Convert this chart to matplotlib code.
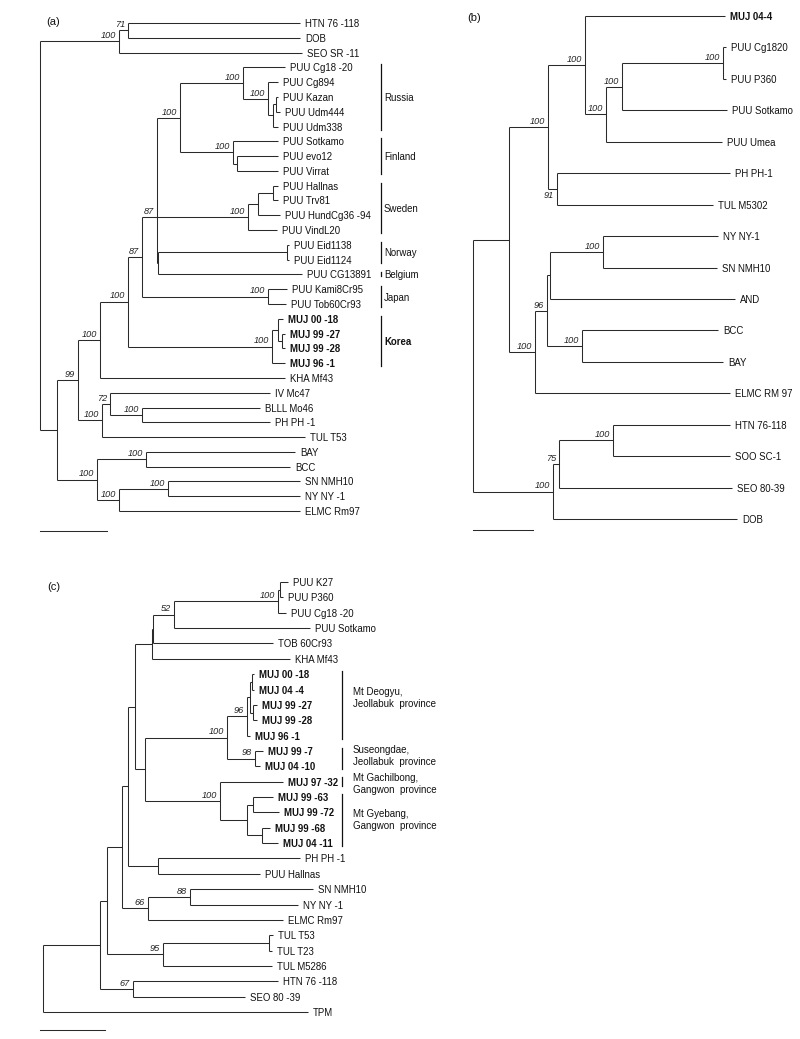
import matplotlib
matplotlib.use('Agg')
import matplotlib.pyplot as plt

plt.rcParams['font.family'] = ['Liberation Sans', 'DejaVu Sans']

# ---------------- DATA ----------------
# Newick trees: branch lengths; internal labels = bootstrap
# support ("v" suffix: support printed below the branch)
TREE_A = ("(((HTN 76 -118:172,DOB:172)71:9,SEO SR -11:183)100:79,"
          "((((((((PUU Cg18 -20:42,(PUU Cg894:10,((PUU Kazan:2,PUU Udm444:4):3,PUU Udm338:5):5)100:25)100:63,"
          "(PUU Sotkamo:45,(PUU evo12:41,PUU Virrat:41):4)100:53)100:23,"
          "(((PUU Hallnas:5,PUU Trv81:5):15,PUU HundCg36 -94:22):10,PUU VindL20:29)100:91,"
          "((PUU Eid1138:2,PUU Eid1124:2):129,PUU CG13891:144):1)87:15,"
          "(PUU Kami8Cr95:19,PUU Tob60Cr93:18)100:126)87:14,"
          "((MUJ 00 -18:5,(MUJ 99 -27:3,MUJ 99 -28:3):4):6,MUJ 96 -1:13)100:144)100:28,"
          "KHA Mf43:185)100:22,"
          "((IV Mc47:160,(BLLL Mo46:118,PH PH -1:128)100:32)72:8,TUL T53:203)100:24)99:21,"
          "((BAY:149,BCC:144)100:49,((SN NMH10:132,NY NY -1:132)100:49,ELMC Rm97:181)100:22)100:40):17);")

TREE_B = ("((((MUJ 04-4:140,(((PUU Cg1820:3,PUU P360:3)100:101,PUU Sotkamo:105)100:16,PUU Umea:116)100:21)100:37,"
          "(PH PH-1:173,TUL M5302:156)91v:9)100:39,"
          "((((NY NY-1:115,SN NMH10:114)100:53,AND:185):3,(BCC:136,BAY:141)100:35)96:12,ELMC RM 97:195)100:26):36,"
          "(((HTN 76-118:117,SOO SC-1:117)100:54,SEO 80-39:173)75:6,DOB:184)100:80);")

TREE_C = ("(((((((((((PUU K27:8,PUU P360:3):2,PUU Cg18 -20:8)100:104,PUU Sotkamo:136)52:21,TOB 60Cr93:120):1,"
          "KHA Mf43:138):17,"
          "(((((MUJ 00 -18:2.5,MUJ 04 -4:2.5):1.5,(MUJ 99 -27:4,MUJ 99 -28:4):3):3,MUJ 96 -1:3)96:20,"
          "(MUJ 99 -7:8,MUJ 04 -10:5)98:28)100:82,"
          "(MUJ 97 -32:63,((MUJ 99 -63:20,MUJ 99 -72:26):6,(MUJ 99 -68:8,MUJ 04 -11:16):15):27)100:75):10):7,"
          "(PH PH -1:142,PUU Hallnas:102):30):6,"
          "((SN NMH10:123,NY NY -1:108)88:42,ELMC Rm97:135)66:26):15,"
          "((TUL T53:4,TUL T23:3):106,TUL M5286:109)95:56):7,"
          "(HTN 76 -118:145,SEO 80 -39:112)67:33):57,TPM:265);")

PANEL_TAGS = ['(a)', '(b)', '(c)']

# group annotations: (label, first leaf, last leaf)
GROUPS_A = [('Russia', 'PUU Cg18 -20', 'PUU Udm338'),
            ('Finland', 'PUU Sotkamo', 'PUU Virrat'),
            ('Sweden', 'PUU Hallnas', 'PUU VindL20'),
            ('Norway', 'PUU Eid1138', 'PUU Eid1124'),
            ('Belgium', 'PUU CG13891', 'PUU CG13891'),
            ('Japan', 'PUU Kami8Cr95', 'PUU Tob60Cr93'),
            ('Korea', 'MUJ 00 -18', 'MUJ 96 -1')]
GROUPS_C = [('Mt Deogyu,\nJeollabuk  province', 'MUJ 00 -18', 'MUJ 96 -1'),
            ('Suseongdae,\nJeollabuk  province', 'MUJ 99 -7', 'MUJ 04 -10'),
            ('Mt Gachilbong,\nGangwon  province', 'MUJ 97 -32', 'MUJ 97 -32'),
            ('Mt Gyebang,\nGangwon  province', 'MUJ 99 -63', 'MUJ 04 -11')]

SCALE_LEN = [67, 60, 65]

# ---------------- PARSER / LAYOUT ----------------
def parse_newick(s):
    pos = 0

    def node():
        nonlocal pos
        children = []
        if s[pos] == '(':
            pos += 1
            while True:
                children.append(node())
                if s[pos] == ',':
                    pos += 1
                    continue
                if s[pos] == ')':
                    pos += 1
                    break
        start = pos
        while pos < len(s) and s[pos] not in ',():;':
            pos += 1
        name = s[start:pos].strip()
        length = 0.0
        if pos < len(s) and s[pos] == ':':
            pos += 1
            start = pos
            while pos < len(s) and s[pos] not in ',();':
                pos += 1
            length = float(s[start:pos])
        return {'name': name, 'len': length, 'children': children}

    return node()


def layout(node, x, state):
    node['x'] = x + node['len']
    if not node['children']:
        node['y'] = state['y0'] + state['i'] * state['dy']
        state['i'] += 1
        state['leaves'][node['name']] = node['y']
        return
    for c in node['children']:
        layout(c, node['x'], state)
    ys = [c['y'] for c in node['children']]
    n = len(ys)
    if n % 2 == 1 and n > 1:
        node['y'] = ys[n // 2]
    else:
        node['y'] = (ys[0] + ys[-1]) / 2.0


LC = '#2a2a2a'
LW = 0.75
FS = 6.9


def draw(ax, node, is_root=False):
    if node['children']:
        ys = [c['y'] for c in node['children']]
        ax.plot([node['x'], node['x']], [min(ys), max(ys)], color=LC, lw=LW,
                solid_capstyle='butt')
        for c in node['children']:
            ax.plot([node['x'], c['x']], [c['y'], c['y']], color=LC, lw=LW,
                    solid_capstyle='butt')
            draw(ax, c)
        lab = node['name']
        if lab and not is_root:
            below = lab.endswith('v')
            txt = lab.rstrip('v')
            if below:
                ax.text(node['x'] - 3, node['y'] + 2, txt, ha='right', va='top',
                        fontsize=6.6, style='italic', color='#222')
            else:
                ax.text(node['x'] - 3, node['y'] - 1.2, txt, ha='right', va='bottom',
                        fontsize=6.6, style='italic', color='#222')
    else:
        bold = node['name'].startswith('MUJ')
        ax.text(node['x'] + 5, node['y'], node['name'], ha='left',
                va='center_baseline', fontsize=FS,
                fontweight='bold' if bold else 'normal', color='#111')


fig = plt.figure(figsize=(8, 10.39), dpi=100)
ax = fig.add_axes([0, 0, 1, 1])
ax.set_xlim(0, 800)
ax.set_ylim(1039, 0)
ax.axis('off')

panels = [(TREE_A, 40, 23, 14.79), (TREE_B, 473, 16, 31.44), (TREE_C, 43, 582, 15.36)]
leafmaps = []
for s, x0, y0, dy in panels:
    t = parse_newick(s)
    st = {'y0': y0, 'dy': dy, 'i': 0, 'leaves': {}}
    layout(t, x0, st)
    draw(ax, t, is_root=True)
    leafmaps.append(st['leaves'])

# panel tags
ax.text(46, 22, PANEL_TAGS[0], fontsize=8, ha='left', va='center', color='#111')
ax.text(467, 18, PANEL_TAGS[1], fontsize=8, ha='left', va='center', color='#111')
ax.text(47, 587, PANEL_TAGS[2], fontsize=8, ha='left', va='center', color='#111')

# group bars (a)
for name, a, b in GROUPS_A:
    ya, yb = leafmaps[0][a], leafmaps[0][b]
    pad = 3 if a != b else 2
    ax.plot([381, 381], [ya - pad, yb + pad], color='#111', lw=0.9)
    ax.text(384, (ya + yb) / 2, name, ha='left', va='center_baseline', fontsize=FS,
            fontweight='bold' if name == 'Korea' else 'normal', color='#111')

# group bars (c)
text_shift = [-7, -2.5, 2.5, 0]
for (name, a, b), dsh in zip(GROUPS_C, text_shift):
    ya, yb = leafmaps[2][a], leafmaps[2][b]
    pad = 3 if a != b else 4.5
    ax.plot([342, 342], [ya - pad, yb + pad], color='#111', lw=0.9)
    ax.text(353, (ya + yb) / 2 + dsh, name, ha='left', va='center', fontsize=7.0,
            linespacing=1.25, color='#111')

# scale bars
for (x0, y), L in zip([(40, 531), (473, 530), (40, 1030)], SCALE_LEN):
    ax.plot([x0, x0 + L], [y, y], color=LC, lw=LW)

fig.savefig('out.png', dpi=100)
